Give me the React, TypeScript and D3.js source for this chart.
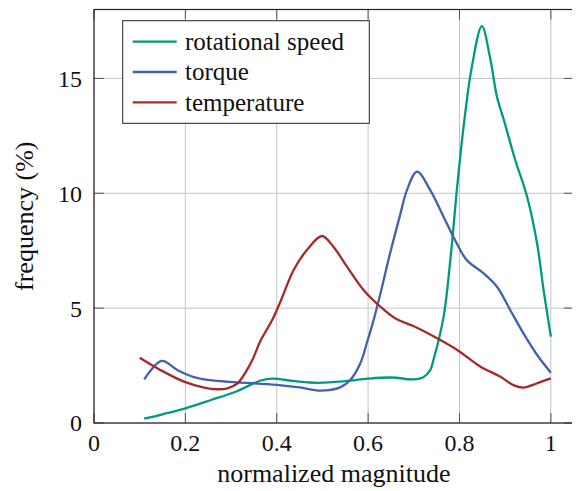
import React from 'react'
import * as d3 from 'd3'

// values
const speedX = [0.11, 0.15, 0.2, 0.256, 0.31, 0.365, 0.39, 0.44, 0.49, 0.55, 0.6, 0.65, 0.7, 0.72, 0.736, 0.743, 0.765, 0.78, 0.795, 0.809, 0.827, 0.849, 0.867, 0.882, 0.897, 0.922, 0.948, 0.97, 0.984, 1.0]
const speedY = [0.19, 0.38, 0.64, 1.0, 1.36, 1.85, 1.93, 1.82, 1.75, 1.82, 1.93, 1.98, 1.9, 1.98, 2.3, 2.74, 4.6, 7.1, 10.3, 12.9, 15.5, 17.28, 15.9, 14.2, 13.2, 11.45, 9.85, 7.8, 5.8, 3.76]

const torqueX = [0.11, 0.148, 0.183, 0.219, 0.263, 0.314, 0.4, 0.45, 0.495, 0.539, 0.561, 0.583, 0.597, 0.612, 0.627, 0.648, 0.67, 0.685, 0.707, 0.736, 0.765, 0.794, 0.816, 0.853, 0.882, 0.911, 0.94, 0.97, 1.0]
const torqueY = [1.9, 2.7, 2.3, 2.0, 1.84, 1.77, 1.66, 1.55, 1.41, 1.55, 1.87, 2.6, 3.47, 4.48, 5.64, 7.38, 9.05, 10.14, 10.94, 10.14, 8.98, 7.82, 7.09, 6.51, 5.93, 4.92, 3.9, 2.96, 2.19]

const tempX = [0.1, 0.146, 0.197, 0.241, 0.27, 0.292, 0.314, 0.343, 0.365, 0.39, 0.408, 0.437, 0.466, 0.499, 0.524, 0.554, 0.59, 0.627, 0.659, 0.699, 0.736, 0.795, 0.846, 0.889, 0.918, 0.94, 0.97, 1.0]
const tempY = [2.84, 2.3, 1.8, 1.54, 1.47, 1.51, 1.72, 2.6, 3.6, 4.48, 5.28, 6.66, 7.53, 8.14, 7.67, 6.8, 5.79, 5.06, 4.56, 4.22, 3.85, 3.18, 2.45, 2.02, 1.65, 1.54, 1.73, 1.94]

const xTicks = [0, 0.2, 0.4, 0.6, 0.8, 1]
const yTicks = [0, 5, 10, 15]

const seriesNames = ['rotational speed', 'torque', 'temperature']
const seriesColors = ['#009a80', '#4262ad', '#a52a2a']

const width = 580, height = 491
const margin = { top: 9.5, right: 6.3, bottom: 68, left: 94 }
const FONT = 'Times New Roman'
// body margin is 8px, so the viewBox starts at 8,8 to keep page coordinates
const PAD = 8

export default function App() {
  const x = d3.scaleLinear().domain([0, 1.05]).range([margin.left, width - margin.right])
  const y = d3.scaleLinear().domain([0, 18]).range([height - margin.bottom, margin.top])
  const [x0, x1] = x.range()
  const [y0, y1] = y.range()

  const series = [
    d3.zip(speedX, speedY),
    d3.zip(torqueX, torqueY),
    d3.zip(tempX, tempY),
  ]
  const line = d3.line<number[]>()
    .x(d => x(d[0]))
    .y(d => y(d[1]))
    .curve(d3.curveCatmullRom.alpha(0.5))

  const tl = 10 // tick length, drawn inward

  return (
    <svg width={width - PAD} height={height - PAD} viewBox={`${PAD} ${PAD} ${width - PAD} ${height - PAD}`}>
      <rect x={0} y={0} width={width} height={height} fill="white" />
      {/* grid */}
      <g stroke="#c4c4c4" strokeWidth={1}>
        {xTicks.map(t => <line key={'gx' + t} x1={x(t)} x2={x(t)} y1={y0} y2={y1} />)}
        {yTicks.map(t => <line key={'gy' + t} x1={x0} x2={x1} y1={y(t)} y2={y(t)} />)}
      </g>
      {/* ticks on all four sides */}
      <g stroke="#555" strokeWidth={1}>
        {xTicks.map(t => (
          <g key={'tx' + t}>
            <line x1={x(t)} x2={x(t)} y1={y0} y2={y0 - tl} />
            <line x1={x(t)} x2={x(t)} y1={y1} y2={y1 + tl} />
          </g>
        ))}
        {yTicks.map(t => (
          <g key={'ty' + t}>
            <line x1={x0} x2={x0 + tl} y1={y(t)} y2={y(t)} />
            <line x1={x1} x2={x1 - tl} y1={y(t)} y2={y(t)} />
          </g>
        ))}
      </g>
      {/* curves */}
      <g fill="none" strokeWidth={2.3} strokeLinejoin="round">
        {series.map((s, i) => <path key={i} d={line(s) || ''} stroke={seriesColors[i]} />)}
      </g>
      {/* axis box */}
      <rect x={x0} y={y1} width={x1 - x0} height={y0 - y1} fill="none" stroke="#222" strokeWidth={1.2} />

      {/* tick labels */}
      {xTicks.map(t => (
        <text key={'lx' + t} x={x(t)} y={451} textAnchor="middle" fontFamily={FONT} fontSize={24} fill="#111">{String(t)}</text>
      ))}
      {yTicks.map(t => (
        <text key={'ly' + t} x={82} y={y(t)} dy="0.35em" textAnchor="end" fontFamily={FONT} fontSize={24} fill="#111">{t}</text>
      ))}
      <text x={(x0 + x1) / 2} y={482} textAnchor="middle" fontFamily={FONT} fontSize={26} fill="#111">normalized magnitude</text>
      <text transform={`translate(33,${(y0 + y1) / 2}) rotate(-90)`} textAnchor="middle" fontFamily={FONT} fontSize={26} fill="#111">frequency (%)</text>

      {/* legend */}
      <rect x={122.7} y={20.7} width={246.6} height={102.6} fill="white" stroke="#222" strokeWidth={1} />
      {seriesNames.map((name, i) => {
        const cy = 41.7 + i * 30.3
        return (
          <g key={name}>
            <line x1={132.7} x2={176.7} y1={cy} y2={cy} stroke={seriesColors[i]} strokeWidth={2.3} />
            <text x={185} y={cy} dy="0.33em" fontFamily={FONT} fontSize={25} fill="#111">{name}</text>
          </g>
        )
      })}
    </svg>
  )
}
